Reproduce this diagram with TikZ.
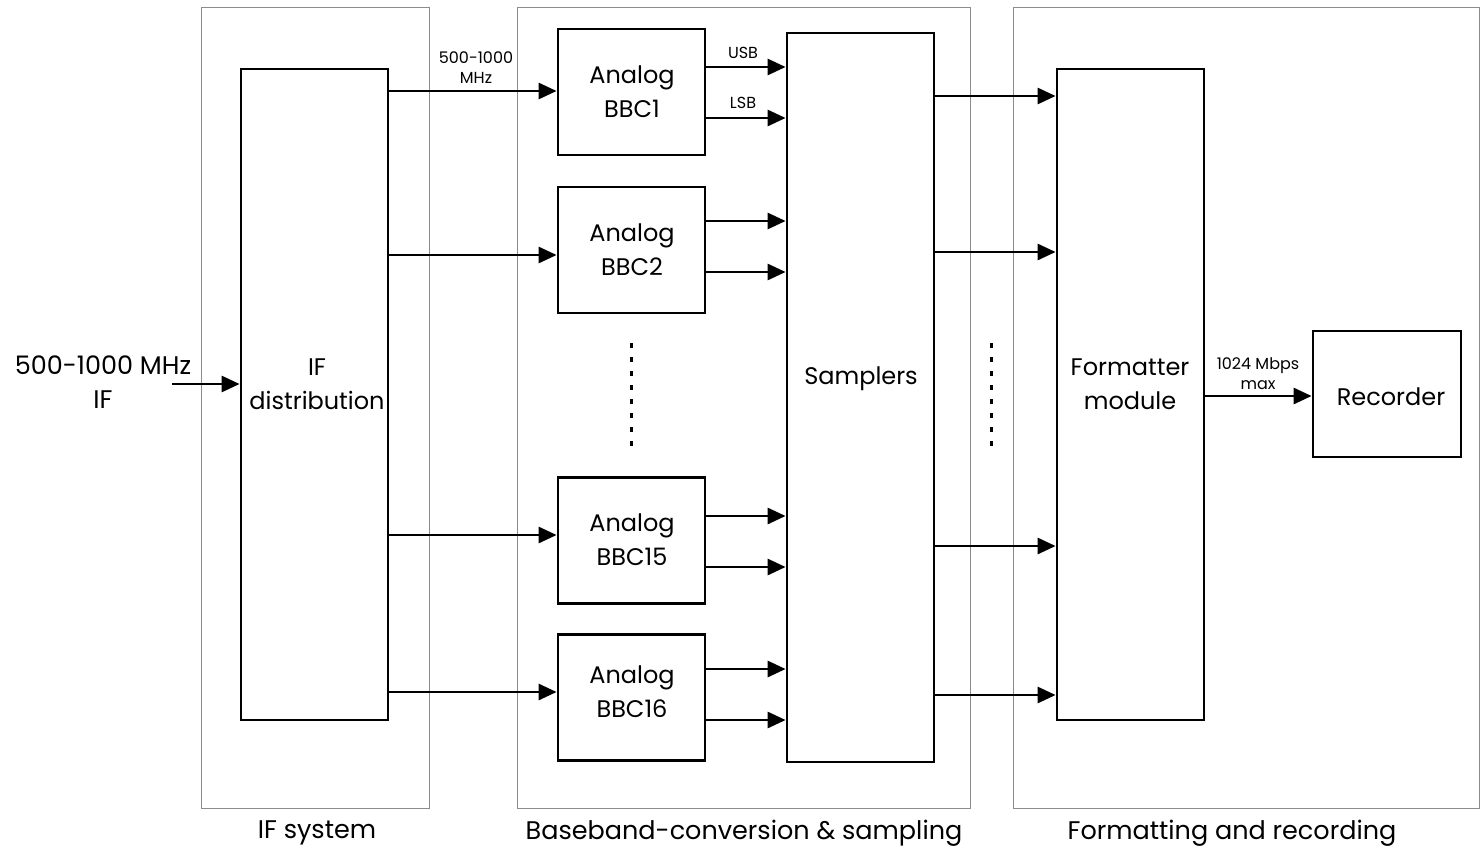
\documentclass[tikz,border=0pt]{standalone}
\usepackage{fontspec}
\setmainfont{Poppins}
\usetikzlibrary{arrows.meta}
\begin{document}
\begin{tikzpicture}[x=1pt,y=-1pt,
  group/.style={draw=black!45,line width=0.9pt},
  blk/.style={draw=black,line width=2.8pt,inner sep=0pt},
  big/.style={font=\fontsize{24}{34}\selectfont,align=center},
  grouplabel/.style={font=\fontsize{25.5}{34}\selectfont,align=center},
  small/.style={font=\fontsize{16}{20}\selectfont,align=center},
  arr/.style={line width=2.8pt,-{Triangle[length=18pt,width=16pt]}},
  dots/.style={line width=3pt,dash pattern=on 5pt off 9pt}]
\useasboundingbox (0,0) rectangle (1480,851);
% group frames
\draw[group] (201,7) rectangle (429,808);
\draw[group] (517,7) rectangle (970,808);
\draw[group] (1013,7) rectangle (1479,808);
\node[grouplabel] (lif) at (317,833) {IF system};
\node[grouplabel] (lbb) at (744,833) {Baseband-conversion \& sampling};
\node[grouplabel] (lfr) at (1232,833) {Formatting and recording};
% blocks
\node[blk,minimum width=147pt,minimum height=651pt] (ifd) at (314.5,394.5) {};
\node[big] at (317,384) {IF\\distribution};
\node[blk,minimum width=147pt,minimum height=126pt] (b1) at (631.5,92) {};
\node[big] at (632,92) {Analog\\BBC1};
\node[blk,minimum width=147pt,minimum height=126pt] (b2) at (631.5,250) {};
\node[big] at (632,250) {Analog\\BBC2};
\node[blk,minimum width=147pt,minimum height=126pt] (b15) at (631.5,540.5) {};
\node[big] at (632,540) {Analog\\BBC15};
\node[blk,minimum width=147pt,minimum height=126pt] (b16) at (631.5,697.5) {};
\node[big] at (632,692) {Analog\\BBC16};
\node[blk,minimum width=147pt,minimum height=729pt] (smp) at (860.5,397.5) {};
\node[big] at (861,379) {Samplers};
\node[blk,minimum width=147pt,minimum height=651pt] (fmt) at (1130.5,394.5) {};
\node[big] at (1130,384) {Formatter\\module};
\node[blk,minimum width=148pt,minimum height=126pt] (rec) at (1387,394) {};
\node[big] at (1391,397) {Recorder};
% input
\coordinate (in) at (172,384);
\node[grouplabel] (inl) at (103,382) {500-1000 MHz\\IF};
\draw[arr] (in) -- (in -| ifd.west);
% IF dist to BBCs
\foreach \b/\y in {b1/91,b2/255,b15/535,b16/692}{
  \draw[arr] (ifd.east |- 0,\y) -- (\b.west |- 0,\y);
}
\node[small] (mhz) at (476,68) {500-1000\\MHz};
% BBC to samplers
\foreach \b/\y in {b1/67,b1/118,b2/221,b2/272,b15/516,b15/567,b16/669,b16/720}{
  \draw[arr] (\b.east |- 0,\y) -- (smp.west |- 0,\y);
}
\node[small] (usb) at (743,53) {USB};
\node[small] (lsb) at (743,103) {LSB};
% samplers to formatter
\foreach \y in {96,252,546,695}{
  \draw[arr] (smp.east |- 0,\y) -- (fmt.west |- 0,\y);
}
% formatter to recorder
\draw[arr] (fmt.east |- 0,396) -- (rec.west |- 0,396);
\node[small] (rate) at (1258,374) {1024 Mbps\\max};
% ellipsis dots
\coordinate (d1a) at (631,343); \coordinate (d1b) at (631,450);
\coordinate (d2a) at (991,343); \coordinate (d2b) at (991,450);
\draw[dots] (d1a) -- (d1b);
\draw[dots] (d2a) -- (d2b);
\end{tikzpicture}
\end{document}
